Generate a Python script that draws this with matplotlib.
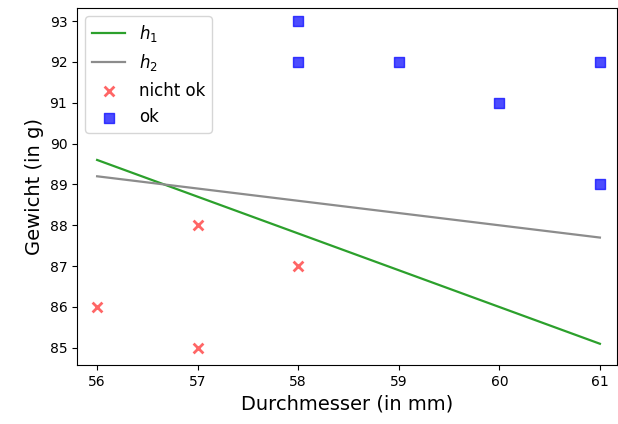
import matplotlib
matplotlib.use("Agg")
import matplotlib.pyplot as plt

# Line endpoints
line_x = [56, 61]
h1_y = [89.6, 85.1]
h2_y = [89.2, 87.7]

# Measurements
nicht_ok_x = [56, 57, 57, 58]
nicht_ok_y = [86, 88, 85, 87]
ok_x = [58, 58, 59, 60, 61, 61]
ok_y = [93, 92, 92, 91, 92, 89]

fig = plt.figure(figsize=(6.18, 4.24), dpi=100)
ax = fig.add_axes([77 / 618, 1 - 365 / 424, (617 - 77) / 618, (365 - 8) / 424])

ax.plot(line_x, h1_y, color="tab:green", lw=1.6, label=r"$h_1$")
ax.plot(line_x, h2_y, color="#8c8c8c", lw=1.6, label=r"$h_2$")
ax.scatter(nicht_ok_x, nicht_ok_y, marker="x", s=50, linewidths=2, color="red", alpha=0.6, label="nicht ok")
ax.scatter(ok_x, ok_y, marker="s", s=50, color="blue", alpha=0.7, label="ok")

ax.set_xlim(55.8, 61.17)
ax.set_ylim(84.58, 93.32)
ax.set_xticks([56, 57, 58, 59, 60, 61])
ax.set_yticks(range(85, 94))
ax.set_xlabel("Durchmesser (in mm)", fontsize=14)
ax.set_ylabel("Gewicht (in g)", fontsize=14)
ax.legend(loc="upper left", fontsize=12)

fig.savefig("out.png", dpi=100)
